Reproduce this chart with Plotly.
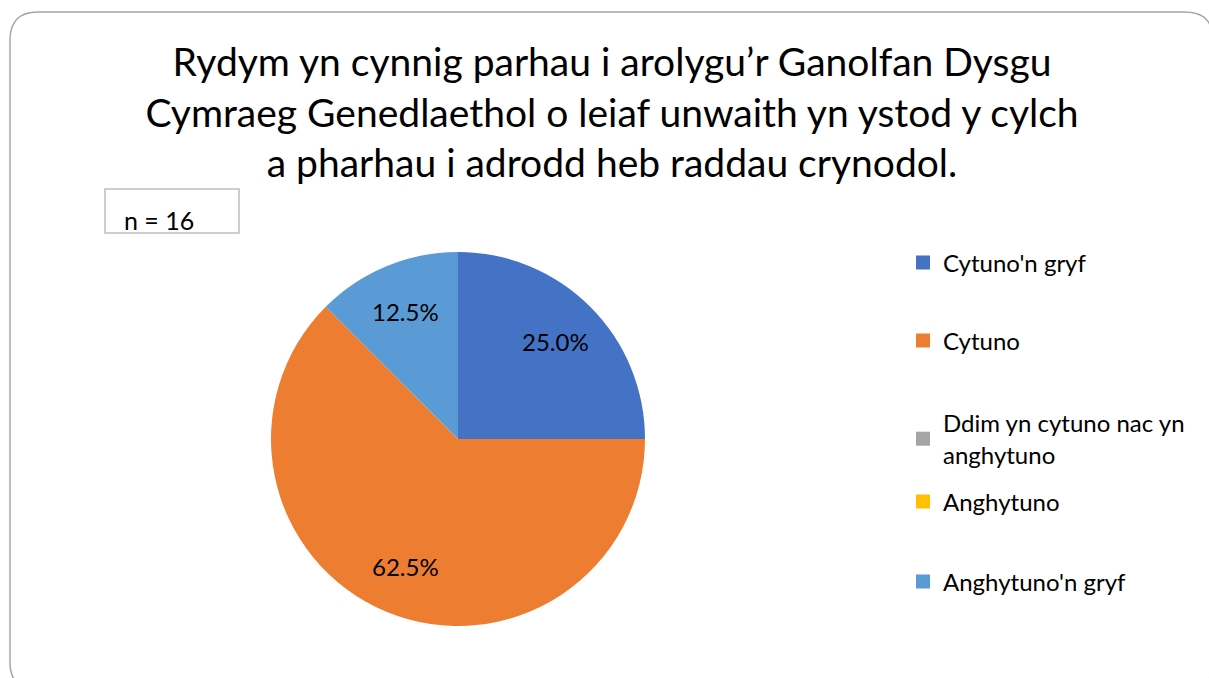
import math
import plotly.graph_objects as go

# Data
categories = ["Cytuno'n gryf", "Cytuno", "Ddim yn cytuno nac yn anghytuno", "Anghytuno", "Anghytuno'n gryf"]
legend_labels = ["Cytuno'n gryf", "Cytuno", "Ddim yn cytuno nac yn<br>anghytuno", "Anghytuno", "Anghytuno'n gryf"]
counts = [4, 10, 0, 0, 2]
colors = ["#4472C4", "#ED7D31", "#A5A5A5", "#FFC000", "#5B9BD5"]
title_text = ("Rydym yn cynnig parhau i arolygu’r Ganolfan Dysgu<br>"
              "Cymraeg Genedlaethol o leiaf unwaith yn ystod y cylch<br>"
              "a pharhau i adrodd heb raddau crynodol.")
n_text = "n = 16"

W, H = 1209, 678
FONT = "Lato"

# pie geometry (style)
CX, CY, R = 458, 439, 187
LABEL_R = 0.74

total = sum(counts)

fig = go.Figure()
fig.add_trace(go.Pie(
    labels=categories, values=counts, sort=False, direction="clockwise", rotation=0,
    marker=dict(colors=colors, line=dict(width=0)),
    textinfo="none",
    showlegend=False, hoverinfo="label+value+percent",
    domain=dict(x=[(CX - R) / W, (CX + R) / W], y=[1 - (CY + R) / H, 1 - (CY - R) / H]),
))

# data labels placed at the middle angle of each slice (computed from the data)
annotations = []
cum = 0
for c in counts:
    if c:
        mid = (cum + c / 2) / total * 2 * math.pi
        lx = CX + LABEL_R * R * math.sin(mid)
        ly = CY - LABEL_R * R * math.cos(mid)
        annotations.append(dict(
            text=f"{c / total:.1%}", xref="paper", yref="paper",
            x=lx / W, y=1 - ly / H, xanchor="center", yanchor="middle", showarrow=False,
            font=dict(family=FONT, size=24, color="#000000")))
    cum += c

# legend entries, one legend per category for Excel-like spacing
legend_y = [263, 341, 439, 502, 582]
layout_legends = {}
for i, (lab, col) in enumerate(zip(legend_labels, colors)):
    key = "legend" if i == 0 else f"legend{i + 1}"
    fig.add_trace(go.Scatter(
        x=[None], y=[None], mode="markers", name=lab,
        marker=dict(symbol="square", size=14, color=col),
        legend=key, showlegend=True,
    ))
    layout_legends[key] = dict(
        x=903 / W, xanchor="left", y=1 - legend_y[i] / H, yanchor="middle",
        font=dict(family=FONT, size=24, color="#000000"),
        bgcolor="rgba(0,0,0,0)", borderwidth=0,
    )

r = 28
x0, y0, x1, y1 = 10 / W, 1 - 12 / H, 1213 / W, 1 - 690 / H
rx, ry = r / W, r / H
path = (f"M {x0 + rx},{y0} L {x1 - rx},{y0} Q {x1},{y0} {x1},{y0 - ry} "
        f"L {x1},{y1 + ry} Q {x1},{y1} {x1 - rx},{y1} L {x0 + rx},{y1} "
        f"Q {x0},{y1} {x0},{y1 + ry} L {x0},{y0 - ry} Q {x0},{y0} {x0 + rx},{y0} Z")

annotations.append(dict(text=n_text, xref="paper", yref="paper", x=122 / W, y=1 - 220 / H,
                        xanchor="left", yanchor="middle", showarrow=False,
                        font=dict(family=FONT, size=25, color="#000000")))

fig.update_layout(
    width=W, height=H,
    margin=dict(l=0, r=0, t=0, b=0),
    paper_bgcolor="white", plot_bgcolor="white",
    font=dict(family=FONT, color="#000000"),
    title=dict(text=title_text, x=612 / W, xanchor="center", y=1 - 76 / H, yanchor="top",
               font=dict(family=FONT, size=39, color="#000000")),
    xaxis=dict(visible=False), yaxis=dict(visible=False),
    shapes=[
        dict(type="path", xref="paper", yref="paper", path=path,
             line=dict(color="#A6A6A6", width=1.5), fillcolor="rgba(0,0,0,0)", layer="below"),
        dict(type="rect", xref="paper", yref="paper",
             x0=105 / W, x1=239 / W, y0=1 - 233 / H, y1=1 - 189 / H,
             line=dict(color="#BFBFBF", width=1.5), fillcolor="rgba(0,0,0,0)"),
    ],
    annotations=annotations,
    **layout_legends,
)

fig.write_html("out.html", config={"displayModeBar": False},
               post_script="document.body.style.margin='0';")
